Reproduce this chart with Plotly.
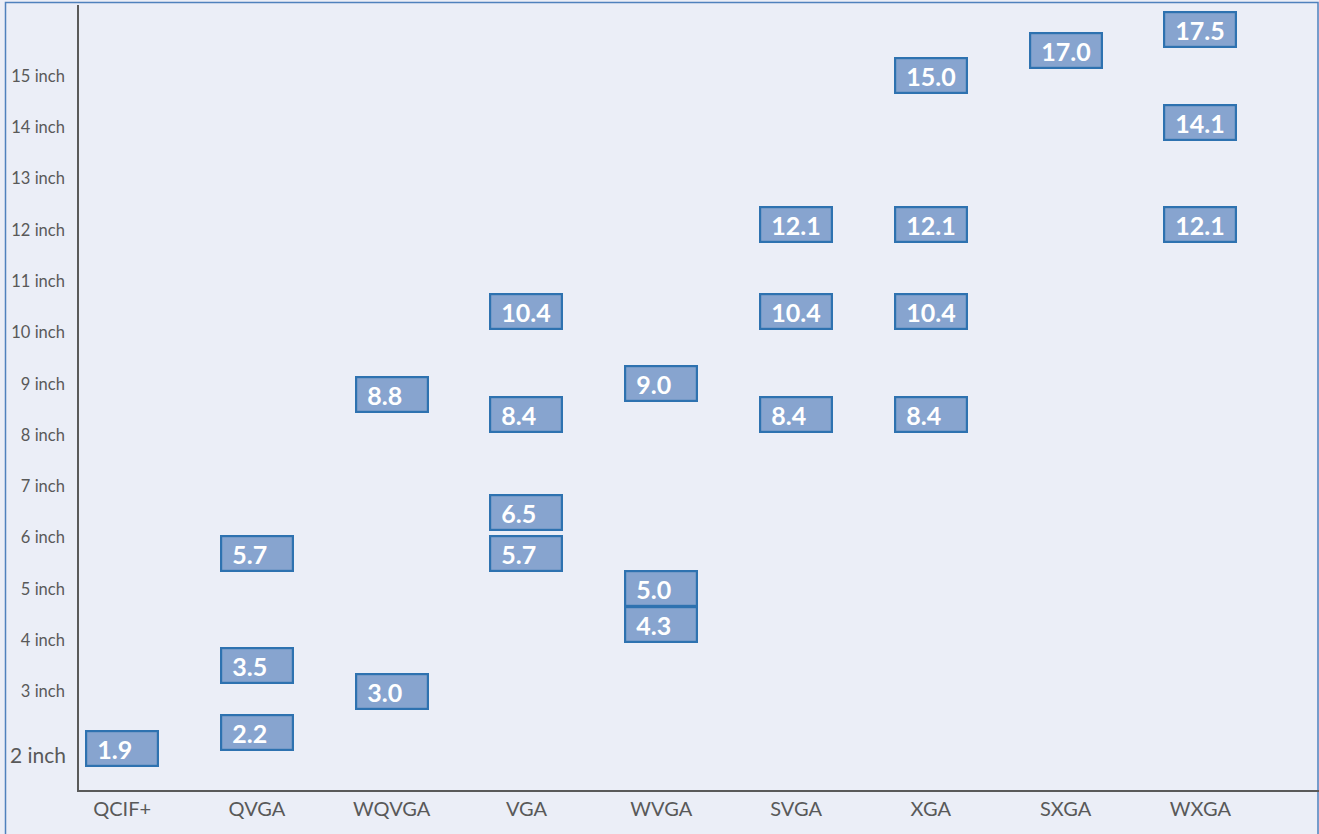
import plotly.graph_objects as go

# ---- data ----
categories = ["QCIF+", "QVGA", "WQVGA", "VGA", "WVGA", "SVGA", "XGA", "SXGA", "WXGA"]
# screen sizes (inch) available for each resolution
sizes_qcifp = [1.9]
sizes_qvga = [5.7, 3.5, 2.2]
sizes_wqvga = [8.8, 3.0]
sizes_vga = [10.4, 8.4, 6.5, 5.7]
sizes_wvga = [9.0, 5.0, 4.3]
sizes_svga = [12.1, 10.4, 8.4]
sizes_xga = [15.0, 12.1, 10.4, 8.4]
sizes_sxga = [17.0]
sizes_wxga = [17.5, 14.1, 12.1]
all_sizes = [sizes_qcifp, sizes_qvga, sizes_wqvga, sizes_vga, sizes_wvga,
             sizes_svga, sizes_xga, sizes_sxga, sizes_wxga]

y_tick_values = [3, 4, 5, 6, 7, 8, 9, 10, 11, 12, 13, 14, 15]
y_tick_labels = [f"{v} inch" for v in y_tick_values]
special_tick_value = 2
special_tick_label = "2 inch"

# ---- style ----
W, H = 1319, 834
ML, MR, MT, MB = 79, 0, 5, 44
BG = "#ebeef7"
AXIS_COL = "#5a5a5a"
TXT_COL = "#595959"
BOX_FILL = "#87a4cf"
BOX_LINE = "#2e72b0"
FONT = "Lato, 'Open Sans', sans-serif"

MAIN_TOP = 15.214      # main y-axis upper bound (broken axis above)
MAIN_RANGE = [1.082, MAIN_TOP]
TOP_RANGE = [16.667, 18.095]
SPLIT = 0.9236

fig = go.Figure()
# invisible trace to establish the category axis
fig.add_trace(go.Scatter(x=categories, y=[None] * len(categories), mode="markers",
                         showlegend=False, hoverinfo="skip"))

annotations = []
for cat, vals in zip(categories, all_sizes):
    for v in vals:
        yref = "y2" if v > MAIN_TOP else "y"
        annotations.append(dict(
            x=cat, y=v, xref="x", yref=yref,
            text=f"&nbsp;{v:.1f}", showarrow=False,
            font=dict(family=FONT, size=25, color="white", weight="bold"),
            bgcolor=BOX_FILL, bordercolor=BOX_LINE, borderwidth=2.2, borderpad=4,
            width=62, height=25, align="left", valign="middle",
            xanchor="center", yanchor="middle",
        ))

annotations.append(dict(
    x=0, y=special_tick_value, xref="paper", yref="y", text=special_tick_label,
    showarrow=False, xanchor="right", yanchor="middle", xshift=-11, yshift=-12,
    font=dict(family=FONT, size=21, color=TXT_COL),
))

fig.update_layout(
    width=W, height=H,
    margin=dict(l=ML, r=MR, t=MT, b=MB),
    paper_bgcolor=BG, plot_bgcolor=BG,
    font=dict(family=FONT, color=TXT_COL),
    showlegend=False,
    annotations=annotations,
    xaxis=dict(type="category", range=[-0.32, 8.88], showgrid=False, zeroline=False,
               showline=True, linecolor=AXIS_COL, linewidth=1.6, ticks="",
               tickfont=dict(size=20, color=TXT_COL), anchor="y"),
    yaxis=dict(domain=[0, SPLIT], range=MAIN_RANGE, showgrid=False, zeroline=False,
               showline=True, linecolor=AXIS_COL, linewidth=1.6,
               tickvals=y_tick_values, ticktext=y_tick_labels,
               ticks="outside", ticklen=9, tickcolor="rgba(0,0,0,0)",
               tickfont=dict(size=16.5, color=TXT_COL), anchor="x"),
    yaxis2=dict(domain=[SPLIT, 1], range=TOP_RANGE, showgrid=False, zeroline=False,
                showline=True, linecolor=AXIS_COL, linewidth=1.6,
                showticklabels=False, ticks="", anchor="x"),
    shapes=[dict(type="rect", xref="paper", yref="paper",
                 x0=(5.5 - ML) / (W - ML - MR), x1=(1318 - ML) / (W - ML - MR),
                 y0=-0.2, y1=1 + 2.5 / (H - MT - MB),
                 line=dict(color="#4f81bd", width=1.5), fillcolor="rgba(0,0,0,0)",
                 layer="below")],
)

fig.write_html("out.html",
               config={"displayModeBar": False},
               post_script="document.body.style.margin='0';"
                           "document.body.style.overflow='hidden';")
